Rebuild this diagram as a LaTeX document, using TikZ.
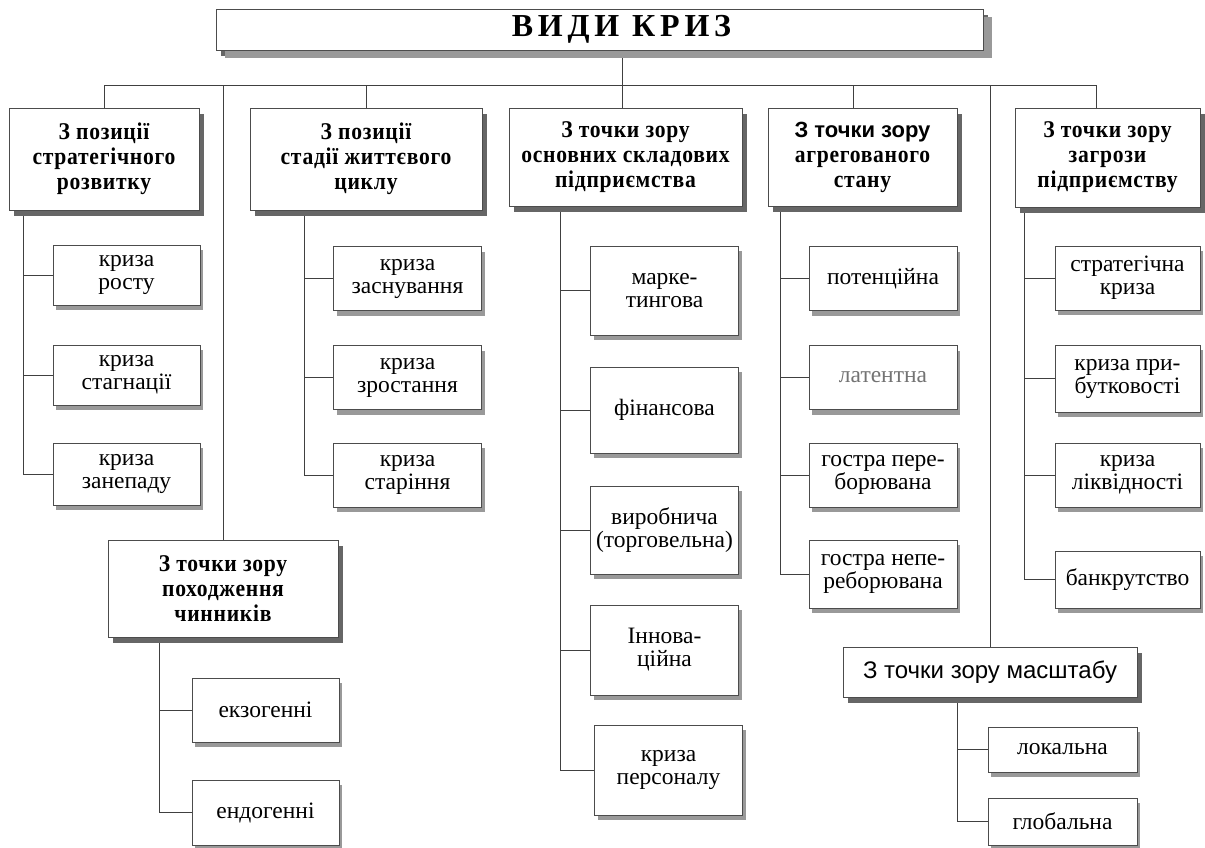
\documentclass[tikz,border=0pt]{standalone}
\usepackage{fontspec}
\setmainfont{Liberation Serif}
\newfontfamily\hdrfont[LetterSpace=3,FakeStretch=0.9]{Liberation Serif}
\newfontfamily\ttlfont[LetterSpace=15]{Liberation Serif}
\newfontfamily\sansf{Liberation Sans}
\usetikzlibrary{shadows,backgrounds}

\tikzset{
	conn/.style={draw=black!75, line width=0.6pt},
	hdr/.style={draw=black!70, fill=white, line width=0.6pt, inner sep=0pt, align=center,
		font=\hdrfont\bfseries\fontsize{24}{25}\selectfont,
		drop shadow={shadow xshift=5pt, shadow yshift=-6pt, fill=black!60, opacity=1}},
	item/.style={draw=black!70, fill=white, line width=0.6pt, inner sep=0pt, align=center,
		minimum width=148pt, minimum height=64pt,
		font=\fontsize{23.5}{23}\selectfont,
		drop shadow={shadow xshift=3pt, shadow yshift=-5pt, fill=black!40, opacity=1}},
}

\begin{document}
\begin{tikzpicture}[x=1pt,y=-1pt]
\useasboundingbox (0,0) rectangle (1205,848);

% title
\node[hdr, minimum width=767pt, minimum height=41pt, font=\ttlfont\bfseries\fontsize{32}{34}\selectfont,
	drop shadow={shadow xshift=9pt, shadow yshift=-8pt, fill=black!40, opacity=1}]
	(title) at (599.5,29.5) {\hspace*{44pt}ВИДИ КРИЗ};
\coordinate (bus) at (622,85);

% headers
\node[hdr, minimum width=190pt, minimum height=102pt] (h1) at (104,159) {З позиції\\стратегічного\\розвитку};
\node[hdr, minimum width=232pt, minimum height=102pt] (h2) at (366,159) {З позиції\\стадії життєвого\\циклу};
\node[hdr, minimum width=233pt, minimum height=98pt] (h3) at (625.5,157) {З точки зору\\основних складових\\підприємства};
\node[hdr, minimum width=189pt, minimum height=98pt] (h4) at (862.5,157)
	{{\sansf\bfseries\fontsize{22}{25}\selectfont З точки зору}\\агрегованого\\стану};
\node[hdr, minimum width=185pt, minimum height=99pt] (h5) at (1107.5,157.5) {З точки зору\\загрози\\підприємству};
\node[hdr, minimum width=230pt, minimum height=97pt] (h6) at (223,588.5) {З точки зору\\походження\\чинників};
\node[hdr, minimum width=294pt, minimum height=50pt, font=\sansf\fontsize{24}{26}\selectfont] (h7) at (990,672) {З точки зору масштабу};

% strategic development
\node[item, minimum width=147pt, minimum height=60pt] (k11) at (126.5,275) {криза\\росту};
\node[item, minimum width=147pt, minimum height=60pt] (k12) at (126.5,375) {криза\\стагнації};
\node[item, minimum width=147pt, minimum height=62pt] (k13) at (126.5,474) {криза\\занепаду};

% life cycle
\node[item] (k21) at (407.5,278.5) {криза\\заснування};
\node[item] (k22) at (407.5,377.5) {криза\\зростання};
\node[item] (k23) at (407.5,475) {криза\\старіння};

% main components
\node[item, minimum height=89pt] (k31) at (664.5,290.5) {марке-\\тингова};
\node[item, minimum height=86pt] (k32) at (664.5,410) {фінансова};
\node[item, minimum height=88pt] (k33) at (664.5,530) {виробнича\\(торговельна)};
\node[item, minimum height=90pt] (k34) at (664.5,650) {Іннова-\\ційна};
\node[item, minimum height=90pt] (k35) at (668.5,770) {криза\\персоналу};

% aggregated state
\node[item] (k41) at (883,278.5) {потенційна};
\node[item, text=black!55] (k42) at (883,377.5) {латентна};
\node[item] (k43) at (883,475) {гостра пере-\\борювана};
\node[item, minimum height=68pt] (k44) at (883,574) {гостра непе-\\реборювана};

% threat
\node[item, minimum width=145pt] (k51) at (1127.5,278) {стратегічна\\криза};
\node[item, minimum width=145pt, minimum height=67pt] (k52) at (1127.5,378.5) {криза при-\\бутковості};
\node[item, minimum width=145pt] (k53) at (1127.5,475) {криза\\ліквідності};
\node[item, minimum width=145pt, minimum height=57pt] (k54) at (1127.5,579.5) {банкрутство};

% origin of factors
\node[item, minimum width=147pt] (k61) at (265.5,710) {екзогенні};
\node[item, minimum width=147pt, minimum height=65pt] (k62) at (265.5,812.5) {ендогенні};

% scale
\node[item, minimum width=149pt, minimum height=45pt] (k71) at (1062.5,749.5) {локальна};
\node[item, minimum width=149pt, minimum height=47pt] (k72) at (1062.5,821.5) {глобальна};

\begin{scope}[on background layer]
\draw[conn] (title.south -| bus) -- (bus);
\draw[conn] (h1.north) |- (bus) -| ([xshift=-11pt]h5.north);
\draw[conn] (bus) -| (h2.north);
\draw[conn] (bus) -- (bus |- h3.north);
\draw[conn] (bus) -| ([xshift=-9pt]h4.north);
\draw[conn] (bus) -| (h6.north);
\draw[conn] (bus) -| (h7.north);

\coordinate (c1) at (23,210);
\coordinate (c2) at (304,210);
\coordinate (c3) at (560,206);
\coordinate (c4) at (780,206);
\coordinate (c5) at (1024,207);
\coordinate (c6) at (159,637);
\coordinate (c7) at (957,697);
\foreach \k in {k11,k12,k13} \draw[conn] (c1) |- (\k.west);
\foreach \k in {k21,k22,k23} \draw[conn] (c2) |- (\k.west);
\foreach \k in {k31,k32,k33,k34,k35} \draw[conn] (c3) |- (\k.west);
\foreach \k in {k41,k42,k43,k44} \draw[conn] (c4) |- (\k.west);
\foreach \k in {k51,k52,k53,k54} \draw[conn] (c5) |- (\k.west);
\foreach \k in {k61,k62} \draw[conn] (c6) |- (\k.west);
\foreach \k in {k71,k72} \draw[conn] (c7) |- (\k.west);
\end{scope}
\end{tikzpicture}
\end{document}
